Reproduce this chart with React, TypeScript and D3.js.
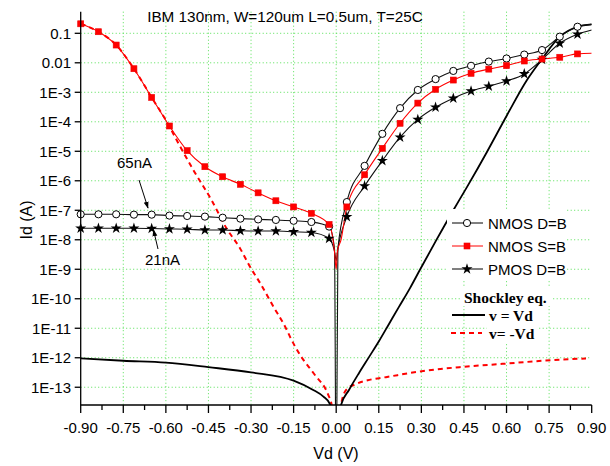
import React from 'react';
import * as d3 from 'd3';

// ---------- data ----------
const markerX = [-0.9, -0.8375, -0.775, -0.7125, -0.65, -0.5875, -0.525, -0.4625, -0.4, -0.3375, -0.275, -0.2125, -0.15, -0.0875, -0.025,
  0.0375, 0.1, 0.1625, 0.225, 0.2875, 0.35, 0.4125, 0.475, 0.5375, 0.6, 0.6625, 0.725, 0.7875, 0.85];

const nmosDB = [7.3e-8, 7.3e-8, 7.3e-8, 7.1e-8, 7.1e-8, 6.6e-8, 6.4e-8, 6.1e-8, 5.6e-8, 5.2e-8, 4.9e-8, 4.7e-8, 4.4e-8, 4.0e-8, 2.8e-8,
  1.9e-7, 3.2e-6, 3.9e-5, 2.9e-4, 1.2e-3, 2.8e-3, 5.3e-3, 7.9e-3, 0.011, 0.014, 0.019, 0.027, 0.077, 0.167];
const nmosSB = [0.21, 0.113, 0.04, 6.3e-3, 6.7e-4, 7.2e-5, 1.05e-5, 3.0e-6, 1.37e-6, 7.6e-7, 3.9e-7, 2.1e-7, 1.3e-7, 7.9e-8, 3.3e-8,
  1.3e-7, 1.6e-6, 1.26e-5, 8.9e-5, 4.3e-4, 1.26e-3, 2.6e-3, 4.4e-3, 6.1e-3, 8.0e-3, 0.0115, 0.0134, 0.0154, 0.02];
const pmosDB = [2.45e-8, 2.45e-8, 2.45e-8, 2.45e-8, 2.4e-8, 2.33e-8, 2.27e-8, 2.14e-8, 2.14e-8, 2.03e-8, 1.98e-8, 1.98e-8, 1.87e-8, 1.77e-8, 1.11e-8,
  6.0e-8, 6.6e-7, 4.8e-6, 3.0e-5, 1.2e-4, 3.1e-4, 6.3e-4, 1.1e-3, 1.6e-3, 2.4e-3, 4.2e-3, 0.013, 0.046, 0.093];

// extra line-only points (the dip at 0 V and the ends at 0.9 V)
const nmosDBExtra: [number, number][] = [[-0.006, 5e-9], [0, 1e-17], [0.006, 5e-9], [0.9, 0.2]];
const nmosSBExtra: [number, number][] = [[-0.006, 4e-9], [0, 1e-9], [0.004, 4e-9], [0.017, 1e-8], [0.9, 0.021]];
const pmosDBExtra: [number, number][] = [[-0.006, 4e-9], [0, 2e-9], [0.006, 5e-9], [0.9, 0.13]];

const shockleyPosV: number[] = [-0.9, -0.75, -0.6, -0.45, -0.3, -0.15, -0.081, -0.045, -0.022, -0.012, 0, 0.012, 0.017,
  0.045, 0.08, 0.116, 0.151, 0.186, 0.221, 0.26, 0.295, 0.355, 0.411, 0.461, 0.531, 0.602, 0.672, 0.725, 0.7875, 0.85, 0.9];
const shockleyPosI: number[] = [9.5e-13, 7.9e-13, 6.8e-13, 4.8e-13, 3.2e-13, 1.67e-13, 8.1e-14, 4.8e-14, 2.7e-14, 1e-14, 1e-17, 1e-14, 2.5e-14,
  8.1e-14, 3.0e-13, 1.07e-12, 3.7e-12, 1.4e-11, 5.3e-11, 2.3e-10, 9.6e-10, 1.07e-8, 9.5e-8, 6.2e-7, 9.5e-6, 1.7e-4, 2.6e-3, 0.0135, 0.077, 0.167, 0.2];

const shockleyNegV: number[] = [-0.9, -0.8375, -0.775, -0.7125, -0.65, -0.5875, -0.562, -0.503, -0.439, -0.386, -0.339, -0.304, -0.268, -0.222, -0.174, -0.163, -0.1275, -0.075, -0.028, -0.016, 0, 0.017, 0.035, 0.07, 0.117, 0.175, 0.293, 0.434, 0.586, 0.727, 0.88];
const shockleyNegI: number[] = [0.21, 0.113, 0.04, 6.3e-3, 6.7e-4, 7.0e-5, 2.4e-5, 2.3e-6, 2.2e-7, 2.4e-8, 5.2e-9, 1.23e-9, 3.4e-10, 5.6e-11, 8.7e-12, 5.2e-12, 1.26e-12, 2.6e-13, 5.5e-14, 2.5e-14, 1e-17, 2.5e-14, 8.1e-14, 1.29e-13, 1.78e-13, 2.2e-13, 3.4e-13, 4.8e-13, 6.2e-13, 7.9e-13, 9.5e-13];

const xTickLabels = ['-0.90', '-0.75', '-0.60', '-0.45', '-0.30', '-0.15', '0.00', '0.15', '0.30', '0.45', '0.60', '0.75', '0.90'];
const yTickValues = [0.1, 0.01, 1e-3, 1e-4, 1e-5, 1e-6, 1e-7, 1e-8, 1e-9, 1e-10, 1e-11, 1e-12, 1e-13];
const yTickLabels = ['0.1', '0.01', '1E-3', '1E-4', '1E-5', '1E-6', '1E-7', '1E-8', '1E-9', '1E-10', '1E-11', '1E-12', '1E-13'];

const title = 'IBM 130nm, W=120um L=0.5um, T=25C';
const legendLabels = ['NMOS D=B', 'NMOS S=B', 'PMOS D=B'];
const shockleyLabels = ['Shockley eq.', 'v = Vd', 'v= -Vd'];

// ---------- layout ----------
const W = 610, H = 466;
const X0 = 80.7, X1 = 591.7, Y0 = 405, Y1 = 11.7;
const SANS = '"Liberation Sans", Arial, sans-serif';
const SERIF = '"Liberation Serif", "Times New Roman", serif';
const GRID = '#55e055';

export default function App() {
  const x = d3.scaleLinear().domain([-0.9, 0.9]).range([X0, X1]);
  const y = d3.scaleLog().domain([2.5e-14, 0.54]).range([Y0, Y1]);

  const line = d3.line<[number, number]>()
    .x(d => x(d[0]))
    .y(d => y(Math.max(d[1], 1e-20)))
    .curve(d3.curveMonotoneX);

  const withExtra = (vals: number[], extra: [number, number][]) =>
    ([...markerX.map((v, i) => [v, vals[i]] as [number, number]), ...extra]).sort((a, b) => a[0] - b[0]);

  const xMajor = xTickLabels.map(s => parseFloat(s));
  const xMinor = xMajor.slice(0, -1).map((v, i) => (v + xMajor[i + 1]) / 2);
  const yMinor = y.ticks().filter(v => {
    const m = Math.round(v / Math.pow(10, Math.floor(Math.log10(v) + 1e-9)));
    return m !== 1;
  });

  const star = d3.symbol().type(d3.symbolStar).size(38)();
  const legY = [223, 246, 269];
  const shY = [297, 315, 333];

  const circleMark = (cx: number, cy: number, k: string) => (
    <circle key={k} cx={cx} cy={cy} r={3.6} fill="#fff" stroke="#000" strokeWidth={1} />
  );
  const squareMark = (cx: number, cy: number, k: string) => (
    <rect key={k} x={cx - 3} y={cy - 3} width={6} height={6} fill="#ff0000" stroke="#ee0000" strokeWidth={0.6} />
  );
  const starMark = (cx: number, cy: number, k: string) => (
    <path key={k} d={star || ''} transform={`translate(${cx},${cy})`} fill="#000" />
  );

  return (
    <svg width={W} height={H} style={{ position: 'fixed', left: 0, top: 0, background: '#fff' }}>
      <defs>
        <clipPath id="plot"><rect x={X0} y={Y1} width={X1 - X0} height={Y0 - Y1} /></clipPath>
        <marker id="arr" viewBox="0 0 10 10" refX="9" refY="5" markerWidth="7" markerHeight="7" orient="auto">
          <path d="M0,1.5 L10,5 L0,8.5 Z" fill="#000" />
        </marker>
      </defs>
      <rect width={W} height={H} fill="#fff" />

      {/* grid */}
      <g stroke={GRID} strokeWidth={1} strokeDasharray="1,2.5">
        {xMajor.slice(1, -1).map((v, i) => <line key={'gx' + i} x1={x(v)} x2={x(v)} y1={Y1} y2={Y0} />)}
        {yTickValues.map((v, i) => <line key={'gy' + i} x1={X0} x2={X1} y1={y(v)} y2={y(v)} />)}
      </g>

      {/* title */}
      <text x={285} y={22} fontFamily={SANS} fontSize={15.3} textAnchor="middle" fill="#000">{title}</text>

      {/* data */}
      <g clipPath="url(#plot)" fill="none">
        <path d={line(shockleyNegV.map((v, i) => [v, shockleyNegI[i]] as [number, number])) || ''} stroke="#ff0000" strokeWidth={2} strokeDasharray="5,4" />
        <path d={line(shockleyPosV.map((v, i) => [v, shockleyPosI[i]] as [number, number])) || ''} stroke="#000" strokeWidth={1.8} />
        <path d={line(withExtra(pmosDB, pmosDBExtra)) || ''} stroke="#111" strokeWidth={1.1} />
        <path d={line(withExtra(nmosDB, nmosDBExtra)) || ''} stroke="#111" strokeWidth={1.1} />
        <path d={line(withExtra(nmosSB, nmosSBExtra)) || ''} stroke="#ff0000" strokeWidth={1.1} />
      </g>
      <g>
        {markerX.map((v, i) => starMark(x(v), y(pmosDB[i]), 'p' + i))}
        {markerX.map((v, i) => circleMark(x(v), y(nmosDB[i]), 'n' + i))}
        {markerX.map((v, i) => squareMark(x(v), y(nmosSB[i]), 's' + i))}
      </g>

      {/* axes */}
      <g stroke="#000" strokeWidth={1.3}>
        <line x1={X0} x2={X0} y1={Y1} y2={Y0} />
        <line x1={X0} x2={X1} y1={Y0} y2={Y0} />
        {xMajor.map((v, i) => <line key={'xt' + i} x1={x(v)} x2={x(v)} y1={Y0} y2={Y0 + 8} />)}
        {xMinor.map((v, i) => <line key={'xm' + i} x1={x(v)} x2={x(v)} y1={Y0} y2={Y0 + 5} />)}
        {yTickValues.map((v, i) => <line key={'yt' + i} x1={X0 - 6} x2={X0} y1={y(v)} y2={y(v)} />)}
        {yMinor.map((v, i) => <line key={'ym' + i} x1={X0 - 3.5} x2={X0} y1={y(v)} y2={y(v)} strokeWidth={1} />)}
      </g>
      <g fontFamily={SANS} fontSize={15} fill="#000">
        {xTickLabels.map((s, i) => (
          <text key={'xl' + i} x={x(xMajor[i])} y={433} textAnchor="middle">{s}</text>
        ))}
        {yTickLabels.map((s, i) => (
          <text key={'yl' + i} x={71} y={y(yTickValues[i])} textAnchor="end" dominantBaseline="central">{s}</text>
        ))}
        <text x={336} y={459} textAnchor="middle" fontSize={16}>Vd (V)</text>
        <text transform="translate(32,220) rotate(-90)" textAnchor="middle" fontSize={16}>Id (A)</text>
      </g>

      {/* annotations */}
      <g fontFamily={SANS} fontSize={15} fill="#000">
        <text x={117} y={168}>65nA</text>
        <text x={145} y={265}>21nA</text>
      </g>
      <g stroke="#000" strokeWidth={1} fill="none">
        <line x1={139} y1={180} x2={148} y2={208} markerEnd="url(#arr)" />
        <line x1={158} y1={249} x2={153.5} y2={230} markerEnd="url(#arr)" />
      </g>

      {/* legend */}
      <rect x={447} y={209} width={120} height={72} fill="#fff" />
      {legendLabels.map((s, i) => (
        <g key={'lg' + i}>
          <line x1={452} x2={483} y1={legY[i]} y2={legY[i]} stroke={i === 1 ? '#ff0000' : '#000'} strokeWidth={1} />
          {i === 0 && circleMark(467, legY[i], 'lc')}
          {i === 1 && squareMark(467, legY[i], 'ls')}
          {i === 2 && starMark(467, legY[i], 'lp')}
          <text x={488} y={legY[i]} dominantBaseline="central" fontFamily={SANS} fontSize={15} fill="#000">{s}</text>
        </g>
      ))}
      <rect x={460} y={287} width={92} height={19} fill="#fff" />
      <rect x={487} y={306} width={52} height={36} fill="#fff" />
      <text x={464} y={297} dominantBaseline="central" fontFamily={SERIF} fontWeight="bold" fontSize={15.5} fill="#000">{shockleyLabels[0]}</text>
      <line x1={452} x2={485} y1={shY[1]} y2={shY[1]} stroke="#000" strokeWidth={2} />
      <text x={489} y={shY[1]} dominantBaseline="central" fontFamily={SERIF} fontWeight="bold" fontSize={15.5} fill="#000">{shockleyLabels[1]}</text>
      <line x1={451} x2={482} y1={shY[2]} y2={shY[2]} stroke="#ff0000" strokeWidth={2} strokeDasharray="5,4" />
      <text x={489} y={shY[2]} dominantBaseline="central" fontFamily={SERIF} fontWeight="bold" fontSize={15.5} fill="#000">{shockleyLabels[2]}</text>
    </svg>
  );
}
